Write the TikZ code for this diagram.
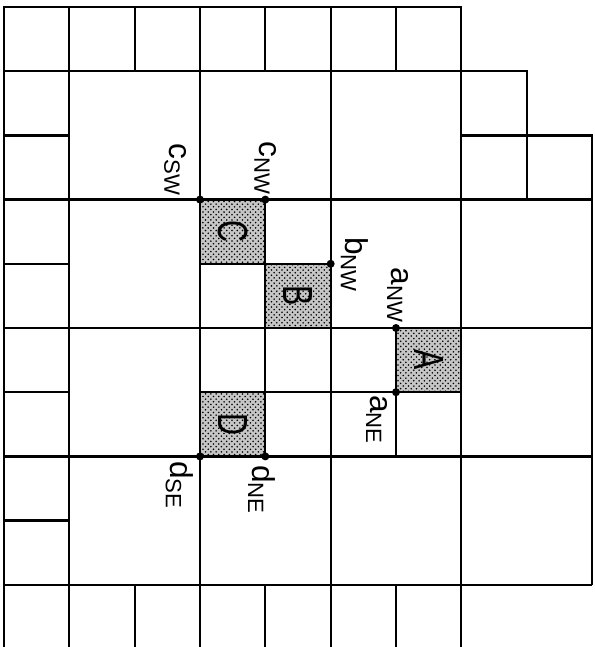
\documentclass[tikz,border=0pt]{standalone}
\usepackage{fontspec}
\setmainfont{Liberation Sans}
\usepackage{graphicx}
\usetikzlibrary{patterns}

\begin{document}
\begin{tikzpicture}[x=1.3067cm, y=-1.284cm, line width=1.3pt,
    shaded/.style={fill=gray!45, postaction={pattern=crosshatch dots, pattern color=black}},
    dot/.style={circle, fill, inner sep=0pt, minimum size=0.16cm},
    lbl/.style={rotate=-90, inner sep=0pt, font=\fontsize{18}{18}\selectfont},
    big/.style={rotate=-90, inner sep=0pt, font=\fontsize{24}{24}\selectfont}]
	\useasboundingbox (-0.0612,-0.109) rectangle (9.031,9.969);
	\clip (-0.0612,-0.109) rectangle (9.031,9.969);

	% shaded cells
	\fill[shaded] (3,3) rectangle (4,4);
	\fill[shaded] (4,4) rectangle (5,5);
	\fill[shaded] (6,5) rectangle (7,6);
	\fill[shaded] (3,6) rectangle (4,7);

	% outline
	\draw (0,10)--(0,0)--(7,0)--(7,1)--(8,1)--(8,2)--(9,2)--(9,9);

	% horizontal lines
	\draw (0,1)--(8,1);
	\draw (0,2)--(1,2);
	\draw (7,2)--(8,2);
	\draw (0,3)--(9,3);
	\draw (0,4)--(1,4);
	\draw (3,4)--(5,4);
	\draw (0,5)--(9,5);
	\draw (0,6)--(1,6);
	\draw (3,6)--(7,6);
	\draw (0,7)--(9,7);
	\draw (0,8)--(1,8);
	\draw (0,9)--(9,9);

	% vertical lines
	\draw (1,0)--(1,10);
	\draw (2,0)--(2,1);
	\draw (2,9)--(2,10);
	\draw (3,0)--(3,10);
	\draw (4,0)--(4,1);
	\draw (4,3)--(4,7);
	\draw (4,9)--(4,10);
	\draw (5,0)--(5,10);
	\draw (6,0)--(6,1);
	\draw (6,5)--(6,7);
	\draw (6,9)--(6,10);
	\draw (7,1)--(7,10);
	\draw (8,2)--(8,3);

	% corner points
	\node[dot] (cSW) at (3,3) {};
	\node[dot] (cNW) at (4,3) {};
	\node[dot] (bNW) at (5,4) {};
	\node[dot] (aNW) at (6,5) {};
	\node[dot] (aNE) at (6,6) {};
	\node[dot] (dSE) at (3,7) {};
	\node[dot] (dNE) at (4,7) {};

	% cell letters
	\node[big] (C) at (3.5,3.5) {\scalebox{0.72}[1]{C}};
	\node[big] (B) at (4.5,4.5) {\scalebox{0.72}[1]{B}};
	\node[big] (A) at (6.5,5.5) {\scalebox{0.72}[1]{A}};
	\node[big] (D) at (3.5,6.5) {\scalebox{0.72}[1]{D}};

	% point labels
	\node[lbl] (lcSW) at (2.62,2.54) {c\textsubscript{SW}};
	\node[lbl] (lcNW) at (4.0,2.51) {c\textsubscript{NW}};
	\node[lbl] (lbNW) at (5.37,4.02) {b\textsubscript{NW}};
	\node[lbl] (laNW) at (6.03,4.49) {a\textsubscript{NW}};
	\node[lbl] (laNE) at (5.71,6.43) {a\textsubscript{NE}};
	\node[lbl] (ldSE) at (2.69,7.45) {d\textsubscript{SE}};
	\node[lbl] (ldNE) at (3.95,7.52) {d\textsubscript{NE}};
\end{tikzpicture}
\end{document}
